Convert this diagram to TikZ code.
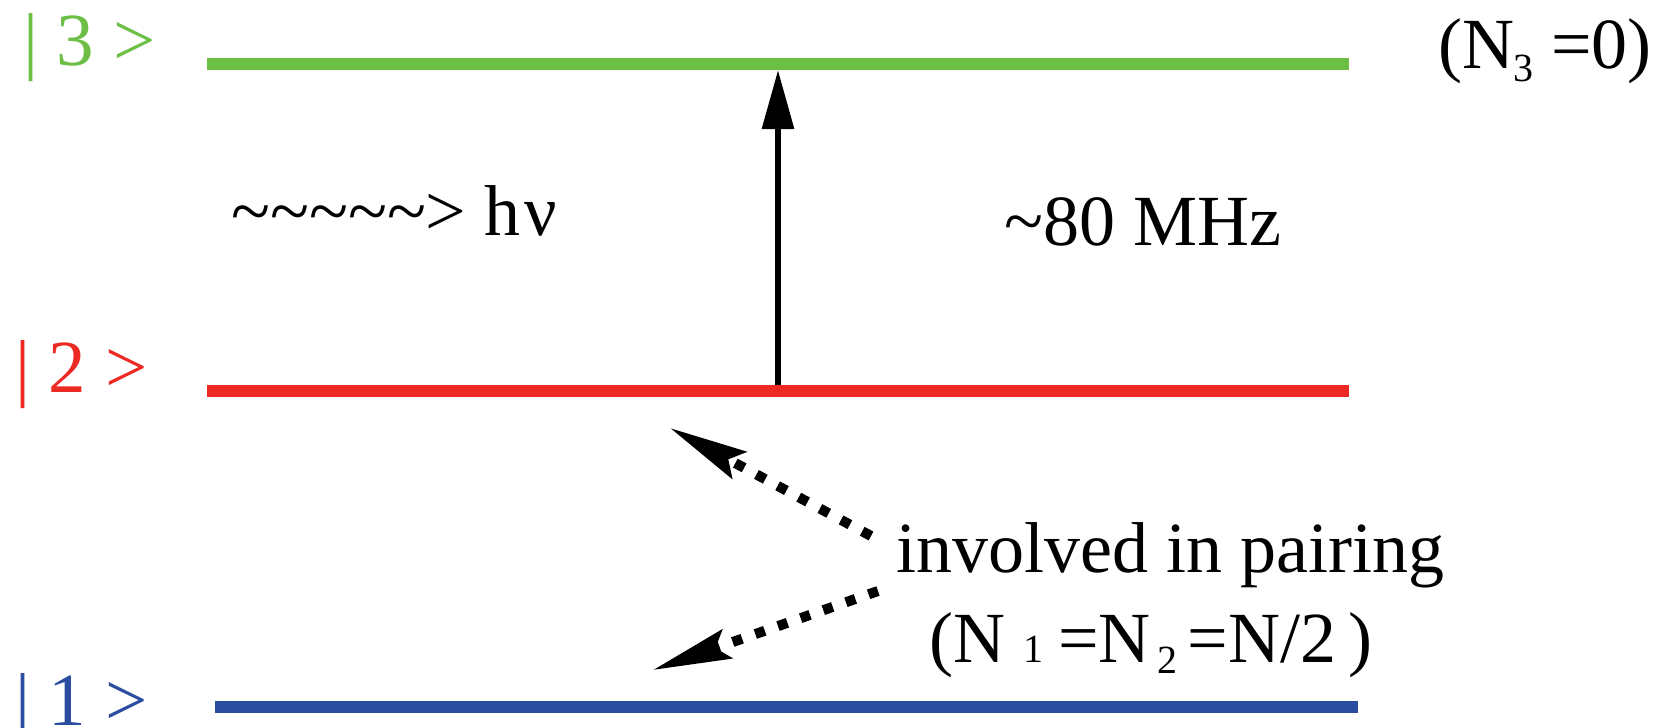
\documentclass[tikz,border=0pt]{standalone}
\usepackage{fontspec}
\setmainfont{Liberation Serif}
\usetikzlibrary{arrows.meta}
\definecolor{lvlgreen}{RGB}{109,190,69}
\definecolor{lvlred}{RGB}{237,41,36}
\definecolor{lvlblue}{RGB}{43,77,160}
\newcommand\mysub{\fontsize{40}{44}\selectfont}
\begin{document}
\begin{tikzpicture}[x=1pt,y=-1pt,
  lvl/.style={line width=12pt},
  txt/.style={anchor=base west, inner sep=0pt, font=\fontsize{72}{80}\selectfont},
  ket/.style={anchor=base west, inner sep=0pt, font=\fontsize{75}{80}\selectfont},
  uparr/.style={line width=6pt, -{Triangle[length=59pt,width=31pt]}},
  dotarr/.style={line width=10pt, dash pattern=on 10pt off 14pt, -{Stealth[length=78pt,width=30pt,inset=12pt]}}]
\useasboundingbox (0,0) rectangle (1663,728);

% energy levels
\coordinate (g0) at (207,64);  \coordinate (g1) at (1349,64);
\coordinate (r0) at (207,391); \coordinate (r1) at (1349,391);
\coordinate (b0) at (215,707); \coordinate (b1) at (1358,707);
\draw[lvl, lvlgreen] (g0) -- (g1);
\draw[lvl, lvlred] (r0) -- (r1);
\draw[lvl, lvlblue] (b0) -- (b1);

% level labels
\node[ket, text=lvlgreen] (k3) at (23,65) {| 3 >};
\node[ket, text=lvlred] (k2) at (15,392) {| 2 >};
\node[ket, text=lvlblue] (k1) at (15,725) {| 1 >};

% other texts
\node[txt] (hv) at (231,235) {\textasciitilde\textasciitilde\textasciitilde\textasciitilde\textasciitilde> h\kern4pt{}ν};
\node[txt] (mhz) at (1004,245) {\textasciitilde 80 MHz};
\node[txt] (n3) at (1438,68) {(N\kern-1pt\raisebox{-13pt}{\mysub 3} =0)};
\node[txt] (pair) at (896,572) {involved in pairing};
\node[txt] (eq) at (929,662) {(N\hspace{18pt}{\mysub 1}\hspace{15pt}=N\hspace{7pt}\raisebox{-11pt}{\mysub 2}\hspace{10pt}=N/2\hspace{12pt})};

% transition arrow
\coordinate (va) at (778,385); \coordinate (vb) at (778,70);
\draw[uparr] (va) -- (vb);

% dotted arrows
\coordinate (pa) at (871,536); \coordinate (pb) at (670,428);
\coordinate (qa) at (878,591); \coordinate (qb) at (653,670);
\draw[dotarr] (pa) -- (pb);
\draw[dotarr] (qa) -- (qb);
\end{tikzpicture}
\end{document}
